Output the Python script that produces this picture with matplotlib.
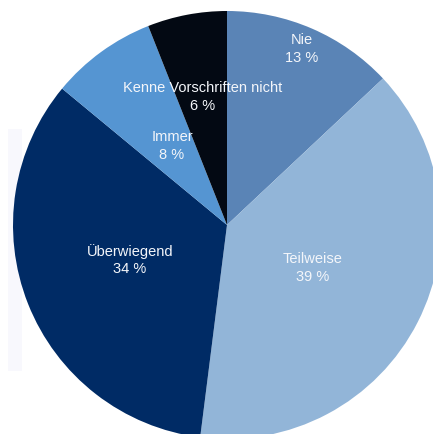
import matplotlib.pyplot as plt
from matplotlib.patches import Rectangle

labels = ['Nie', 'Teilweise', 'Überwiegend', 'Immer', 'Kenne Vorschriften nicht']
shares = [13, 39, 34, 8, 6]
colors = ['#5a84b6', '#92b5d8', '#002b65', '#5595d2', '#030913']

# pixel layout of the original picture
W, H = 433, 434
cx, cy, r = 227, 225, 214

fig = plt.figure(figsize=(W / 100, H / 100), dpi=100)
ax = fig.add_axes([0, 0, 1, 1])

wedges, texts = ax.pie(shares, colors=colors, startangle=90, counterclock=False,
                       radius=1, center=(0, 0), wedgeprops=dict(linewidth=0))
for w in wedges:
    w.set_zorder(1)

# pie() resets the limits, so set them afterwards
ax.set_xlim(-cx / r, (W - cx) / r)
ax.set_ylim(-(H - cy) / r, cy / r)
ax.set_aspect('equal')
ax.axis('off')

# faint shadow strip on the left
ax.add_patch(Rectangle((-(cx - 8) / r, -0.68), 14 / r, 1.13,
                       facecolor='#f8f8fd', edgecolor='none', zorder=0))

# label anchors in pixels, converted to data units
label_px = [(302, 49), (313, 268), (130, 260), (172, 146), (203, 97)]
for lab, val, (px, py) in zip(labels, shares, label_px):
    ax.text((px - cx) / r, (cy - py) / r, f'{lab}\n{val} %', ha='center', va='center',
            color='#f4f6fa', fontsize=10.5, family=['Liberation Sans', 'DejaVu Sans'],
            linespacing=1.35, zorder=3)

fig.savefig('out.png', dpi=100)
